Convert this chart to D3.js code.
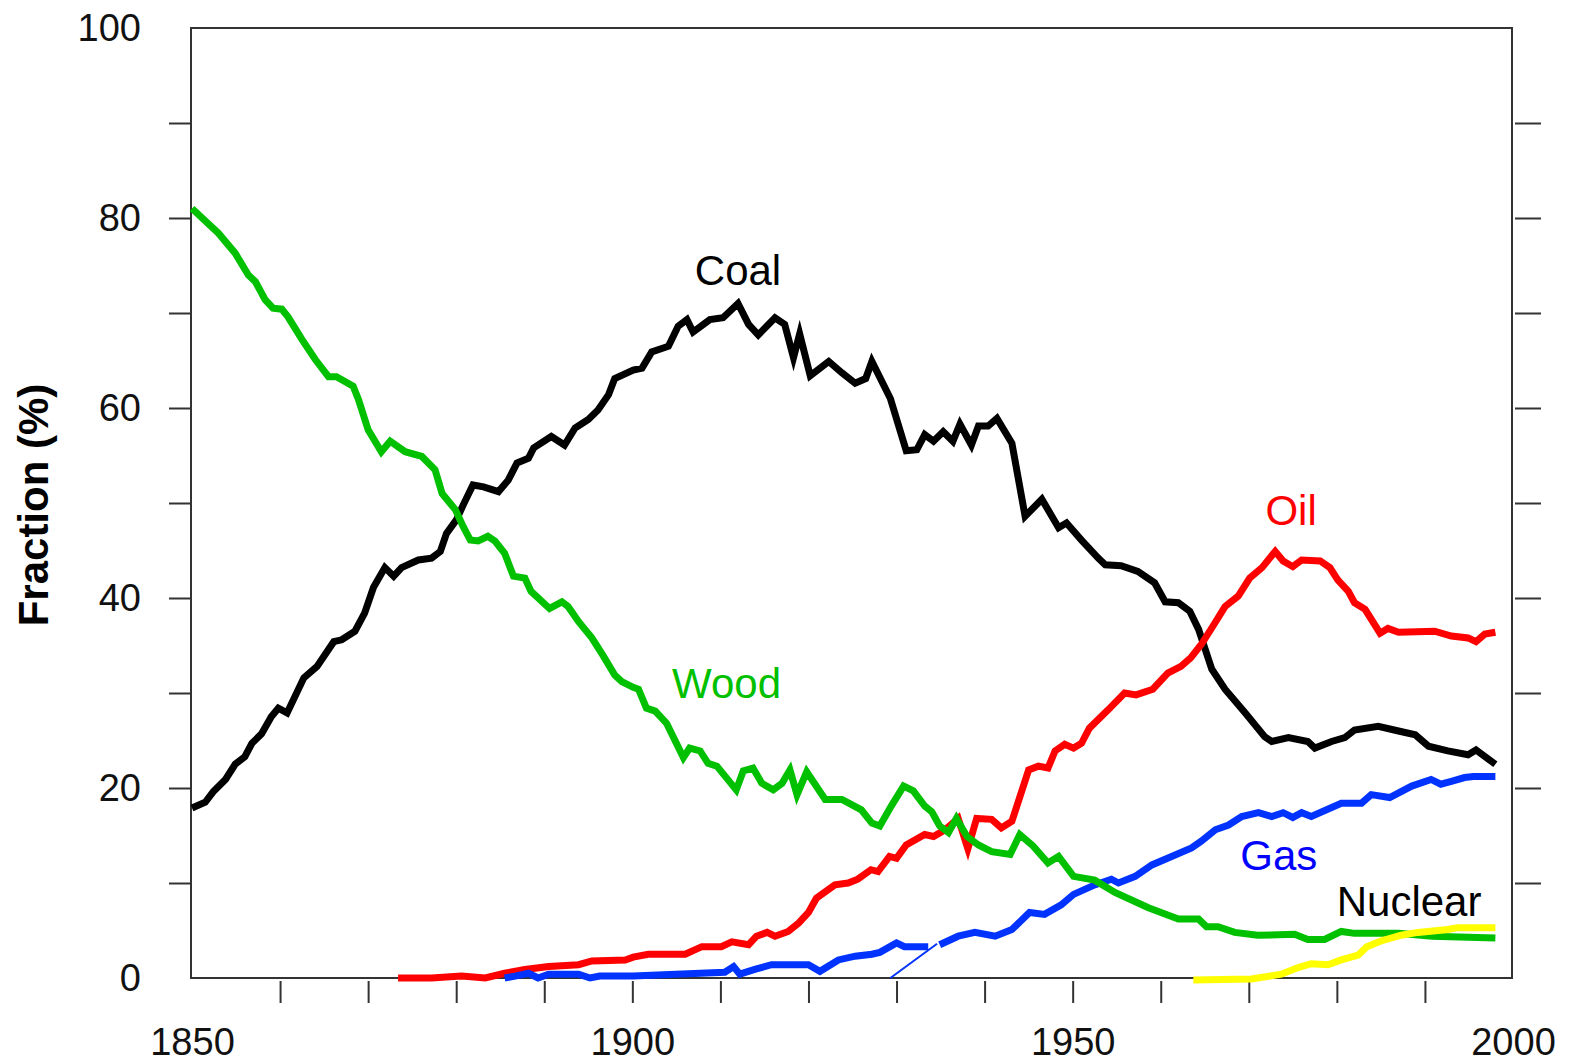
<!DOCTYPE html>
<html>
<head>
<meta charset="utf-8">
<script src="https://cdn.jsdelivr.net/npm/d3@7"></script>
<style>
  body { margin: 0; background: #fff; }
  svg text { font-family: "Liberation Sans", Arial, sans-serif; }
  .axis text { font-size: 38px; fill: #111; }
  .axis line { stroke: #333; stroke-width: 2px; }
  .label { font-size: 42px; text-anchor: middle; }
</style>
</head>
<body>
<div id="viz"></div>
<script>
// values: [year, percent]
var coal = [[1850.0,17.9],[1851.5,18.5],[1852.4,19.6],[1853.8,20.9],[1854.9,22.5],[1856.0,23.3],[1856.8,24.7],[1857.9,25.7],[1859.0,27.5],[1859.8,28.4],[1860.8,27.9],[1862.7,31.6],[1864.2,32.8],[1866.1,35.4],[1867.0,35.6],[1868.5,36.5],[1869.6,38.4],[1870.6,41.1],[1871.9,43.2],[1872.9,42.3],[1873.8,43.2],[1875.7,44.0],[1877.2,44.2],[1878.2,44.9],[1878.9,46.8],[1880.0,48.2],[1880.8,49.8],[1881.9,51.9],[1883.1,51.7],[1884.8,51.2],[1885.9,52.4],[1886.9,54.2],[1888.2,54.7],[1888.8,55.8],[1890.8,57.0],[1892.3,56.1],[1893.5,57.9],[1895.0,58.8],[1896.1,59.8],[1897.3,61.4],[1898.0,63.1],[1900.1,64.0],[1901.1,64.2],[1902.2,65.9],[1904.1,66.5],[1905.2,68.6],[1906.2,69.3],[1906.9,68.0],[1908.8,69.3],[1910.3,69.5],[1912.0,71.0],[1913.2,68.8],[1914.3,67.7],[1916.2,69.5],[1917.3,68.8],[1918.3,65.3],[1919.0,67.8],[1920.2,63.4],[1922.3,64.9],[1923.8,63.7],[1925.3,62.6],[1926.5,63.1],[1927.2,64.9],[1929.3,61.0],[1931.1,55.5],[1932.3,55.6],[1933.2,57.2],[1934.2,56.5],[1935.3,57.5],[1936.4,56.5],[1937.2,58.3],[1938.5,56.1],[1939.3,58.1],[1940.4,58.1],[1941.4,58.9],[1943.1,56.3],[1944.6,48.6],[1946.5,50.4],[1948.4,47.4],[1949.3,47.9],[1951.0,46.1],[1952.9,44.2],[1953.7,43.5],[1955.5,43.4],[1957.4,42.8],[1959.3,41.6],[1960.5,39.6],[1962.0,39.5],[1963.3,38.6],[1964.3,36.7],[1965.8,32.5],[1967.3,30.4],[1969.6,27.9],[1971.8,25.4],[1972.6,24.9],[1974.5,25.3],[1976.7,24.9],[1977.5,24.2],[1979.4,24.9],[1980.9,25.3],[1982.0,26.1],[1984.7,26.5],[1987.0,26.0],[1988.9,25.6],[1990.4,24.4],[1992.6,23.9],[1994.9,23.5],[1995.8,24.0],[1998.0,22.5]];

var wood = [[1850.0,81.0],[1853.0,78.4],[1854.9,76.3],[1856.4,74.0],[1857.2,73.3],[1858.3,71.4],[1859.2,70.5],[1860.2,70.4],[1860.9,69.6],[1862.5,67.2],[1864.0,65.1],[1865.5,63.3],[1866.4,63.3],[1868.3,62.3],[1868.9,60.9],[1870.0,57.7],[1871.5,55.4],[1872.5,56.5],[1874.2,55.4],[1876.1,54.9],[1877.6,53.5],[1878.4,51.0],[1879.9,49.3],[1880.8,47.5],[1881.6,46.1],[1882.5,46.0],[1883.6,46.5],[1884.4,46.0],[1885.5,44.7],[1886.5,42.3],[1887.8,42.1],[1888.5,40.7],[1890.6,38.9],[1892.0,39.6],[1892.7,39.1],[1893.9,37.5],[1895.4,35.8],[1896.7,33.9],[1898.0,31.9],[1898.8,31.2],[1900.1,30.6],[1900.7,30.4],[1901.6,28.4],[1902.6,28.1],[1903.9,26.8],[1905.8,23.2],[1906.5,24.2],[1907.7,23.9],[1908.6,22.6],[1909.6,22.3],[1911.8,19.8],[1912.6,21.8],[1913.7,22.1],[1914.7,20.5],[1916.0,19.8],[1917.0,20.5],[1917.9,21.9],[1918.7,19.3],[1919.8,21.7],[1921.9,18.8],[1923.8,18.8],[1926.0,17.7],[1927.2,16.3],[1928.1,16.0],[1929.4,18.1],[1930.8,20.2],[1931.9,19.7],[1933.2,18.1],[1934.0,17.5],[1934.9,16.0],[1935.9,15.3],[1936.8,16.8],[1938.0,14.9],[1939.3,14.0],[1940.8,13.3],[1942.9,13.0],[1944.0,15.1],[1945.5,13.9],[1947.2,12.1],[1948.4,12.8],[1950.1,10.7],[1952.5,10.3],[1954.8,9.0],[1958.6,7.4],[1962.0,6.2],[1964.3,6.2],[1965.2,5.4],[1966.5,5.4],[1968.4,4.8],[1971.0,4.5],[1975.2,4.6],[1976.7,4.05],[1978.6,4.05],[1980.5,4.9],[1982.0,4.7],[1987.0,4.7],[1990.8,4.4],[1998.0,4.2]];

var oil = [[1873.4,0],[1877.2,0],[1880.6,0.2],[1883.3,0],[1885.5,0.5],[1887.8,0.9],[1890.5,1.2],[1893.9,1.4],[1895.4,1.8],[1899.2,1.9],[1900.1,2.2],[1901.8,2.5],[1906.0,2.5],[1907.9,3.3],[1910.1,3.3],[1911.3,3.8],[1913.2,3.5],[1914.1,4.4],[1915.3,4.8],[1916.2,4.4],[1917.7,4.9],[1918.9,5.8],[1920.0,6.9],[1920.9,8.4],[1923.0,9.8],[1924.5,10.0],[1925.6,10.4],[1927.1,11.4],[1927.9,11.2],[1929.2,12.8],[1930.0,12.6],[1931.1,14.0],[1933.2,15.1],[1934.2,14.9],[1935.5,15.6],[1937.0,16.8],[1938.1,13.6],[1939.1,16.8],[1940.8,16.7],[1941.9,15.8],[1943.1,16.5],[1945.0,21.9],[1946.1,22.3],[1947.2,22.1],[1948.0,23.9],[1949.1,24.6],[1950.1,24.2],[1951.0,24.7],[1951.9,26.3],[1954.0,28.2],[1955.9,30.0],[1957.2,29.8],[1959.1,30.4],[1960.8,32.1],[1962.3,32.8],[1963.4,33.7],[1964.6,35.1],[1965.9,37.0],[1967.3,39.1],[1968.8,40.2],[1970.1,42.1],[1971.5,43.2],[1973.0,44.9],[1973.9,43.9],[1975.0,43.3],[1976.0,44.0],[1978.1,43.9],[1979.2,43.2],[1980.1,41.9],[1981.3,40.7],[1982.0,39.5],[1983.2,38.8],[1984.9,36.3],[1985.8,36.8],[1987.0,36.4],[1991.1,36.5],[1993.0,36.0],[1994.9,35.8],[1995.8,35.4],[1996.8,36.2],[1998.0,36.4]];

// null marks the break in the gas curve
var gas = [[1885.5,0],[1886.7,0.2],[1888.2,0.5],[1889.3,0],[1890.5,0.4],[1893.9,0.4],[1895.2,0],[1896.3,0.2],[1900.1,0.2],[1910.5,0.6],[1911.5,1.2],[1912.2,0.4],[1913.9,0.9],[1915.8,1.4],[1920.0,1.4],[1921.3,0.7],[1923.4,1.9],[1925.3,2.3],[1927.2,2.5],[1928.1,2.7],[1930.0,3.7],[1930.9,3.3],[1933.6,3.3],[1934.2,null],[1934.9,3.5],[1937.0,4.4],[1938.9,4.8],[1941.2,4.4],[1943.1,5.1],[1945.1,6.9],[1946.8,6.7],[1948.7,7.7],[1950.1,8.8],[1952.5,9.8],[1954.4,10.4],[1955.2,10.0],[1957.1,10.7],[1959.0,11.9],[1963.5,13.7],[1964.6,14.4],[1966.2,15.6],[1967.7,16.1],[1969.2,17.0],[1971.1,17.4],[1972.6,17.0],[1973.9,17.4],[1975.0,16.9],[1976.0,17.4],[1977.1,17.0],[1980.5,18.4],[1982.8,18.4],[1983.9,19.3],[1986.0,19.0],[1988.5,20.2],[1990.7,20.9],[1991.8,20.4],[1993.0,20.7],[1994.5,21.1],[1995.5,21.2],[1998.0,21.2]];
var gasThin = [[1929.3,0],[1934.6,3.6]];

var nuclear = [[1963.7,-0.2],[1970.3,-0.1],[1973.7,0.4],[1975.6,1.1],[1977.1,1.5],[1979.0,1.4],[1980.5,1.9],[1982.4,2.4],[1983.4,3.3],[1985.0,3.9],[1987.3,4.5],[1989.2,4.8],[1992.6,5.1],[1993.7,5.3],[1998.0,5.3]];

var xTicks = d3.range(1850, 2001, 10);
var xLabels = [1850, 1900, 1950, 2000];
var yTicks = d3.range(0, 101, 10);
var yLabels = [0, 20, 40, 60, 80, 100];

// series drawn in this order, label anchored at [year, percent]
var series = [
    {name: "Coal", data: coal, color: "#000000", label: [1912, 73.0], labelColor: "#000000"},
    {name: "Oil", data: oil, color: "#ff0000", label: [1974.8, 47.7], labelColor: "#ff0000"},
    {name: "Gas", data: gas, color: "#0033ff", label: [1973.4, 11.4], labelColor: "#0000ff"},
    {name: "Wood", data: wood, color: "#00c000", label: [1910.7, 29.5], labelColor: "#00c000"},
    {name: "Nuclear", data: nuclear, color: "#ffff00", label: [1988.2, 6.5], labelColor: "#000000"}
];

var margin = {top: 28, right: 58, bottom: 84, left: 191};
var width = 1570 - margin.left - margin.right,
    height = 1062 - margin.top - margin.bottom;

var svg = d3.select("#viz").append("svg")
    .attr("width", width + margin.left + margin.right)
    .attr("height", height + margin.top + margin.bottom)
    .append("g")
    .attr("transform", "translate(" + margin.left + "," + margin.top + ")");

var xScale = d3.scaleLinear().domain([1850, 2000]).range([1, width + 1]);
var yScale = d3.scaleLinear().domain([0, 100]).range([height, 0]);

// left axis: ticks every 10, labels every 20
var yAxis = d3.axisLeft(yScale)
    .tickValues(yTicks)
    .tickSize(22)
    .tickPadding(28)
    .tickFormat(function(d) { return yLabels.indexOf(d) >= 0 ? d : ""; });
var svgY = svg.append("g").attr("class", "axis").call(yAxis);
svgY.select(".domain").remove();
svgY.selectAll(".tick line").filter(function(d) { return d == 0 || d == 100; }).remove();

// right axis: ticks only, a little off the frame
var yAxisR = d3.axisRight(yScale).tickValues(yTicks).tickSize(26).tickFormat("");
var svgYR = svg.append("g").attr("class", "axis")
    .attr("transform", "translate(" + (width + 3) + ",0)")
    .call(yAxisR);
svgYR.select(".domain").remove();
svgYR.selectAll(".tick line").filter(function(d) { return d == 0 || d == 100; }).remove();

// bottom axis
var xAxis = d3.axisBottom(xScale)
    .tickValues(xTicks)
    .tickSize(22)
    .tickPadding(25)
    .tickFormat(function(d) { return xLabels.indexOf(d) >= 0 ? d : ""; });
var svgX = svg.append("g").attr("class", "axis")
    .attr("transform", "translate(0," + (height + 3) + ")")
    .call(xAxis);
svgX.select(".domain").remove();
svgX.selectAll(".tick line").filter(function(d) { return d == 1850 || d == 2000; }).remove();

// frame
svg.append("rect")
    .attr("x", 0)
    .attr("y", 0)
    .attr("width", width)
    .attr("height", height)
    .attr("fill", "none")
    .attr("stroke", "#333")
    .attr("stroke-width", 2);

var line = d3.line()
    .defined(function(d) { return d[1] !== null; })
    .x(function(d) { return xScale(d[0]); })
    .y(function(d) { return yScale(d[1]); });

svg.append("path")
    .datum(gasThin)
    .attr("d", line)
    .attr("fill", "none")
    .attr("stroke", "#0033ff")
    .attr("stroke-width", 2);

series.forEach(function(s) {
    svg.append("path")
        .datum(s.data)
        .attr("class", "line")
        .attr("d", line)
        .attr("fill", "none")
        .attr("stroke", s.color)
        .attr("stroke-width", 7)
        .attr("stroke-linejoin", "miter")
        .attr("stroke-miterlimit", 6);
});

series.forEach(function(s) {
    svg.append("text")
        .attr("class", "label")
        .attr("x", xScale(s.label[0]))
        .attr("y", yScale(s.label[1]))
        .attr("fill", s.labelColor)
        .text(s.name);
});

// y title
svg.append("text")
    .attr("transform", "translate(" + (33 - margin.left) + "," + (505 - margin.top) + ") rotate(-90)")
    .attr("text-anchor", "middle")
    .attr("dy", "0.35em")
    .style("font-size", "42px")
    .style("font-weight", "bold")
    .text("Fraction (%)");
</script>
</body>
</html>
